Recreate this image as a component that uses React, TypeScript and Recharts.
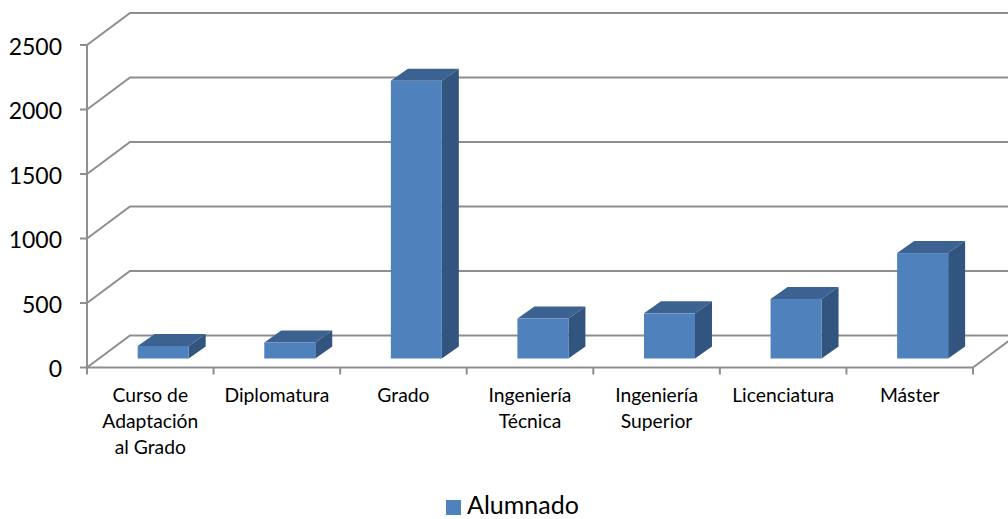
import React from "react";
import { BarChart, Bar, XAxis, YAxis, CartesianGrid, Legend } from "recharts";

const categories = ["Curso de|Adaptación|al Grado", "Diplomatura", "Grado", "Ingeniería|Técnica", "Ingeniería|Superior", "Licenciatura", "Máster"];
const alumnado = [97, 124, 2153, 310, 350, 462, 817];
const yTicks = [0, 500, 1000, 1500, 2000, 2500];
const data = categories.map((name, i) => ({ name, Alumnado: alumnado[i] }));

const GREY = "#8e8e8e";
const DX = 43, DY = 32;
const BAND = 886 / categories.length;

const Bar3D = (p: any) => {
  const bx = p.x + 12.7, by = p.y - 9, w = p.width, h = p.height;
  const ox = 17, oy = 12;
  return (
    <g>
      <polygon points={`${bx},${by} ${bx + ox},${by - oy} ${bx + w + ox},${by - oy} ${bx + w},${by}`} fill="#3c6292" />
      <polygon points={`${bx + w},${by} ${bx + w + ox},${by - oy} ${bx + w + ox},${by + h - oy} ${bx + w},${by + h}`} fill="#325580" />
      <rect x={bx} y={by} width={w} height={h} fill="#4f81bd" />
    </g>
  );
};

const GridLine = (p: any) => {
  const y = p.y1;
  const isFloor = Math.abs(y - 367.5) < 1;
  return (
    <g fill="none" stroke={GREY} strokeWidth={2}>
      <polyline points={`${p.x1},${y} ${p.x1 + DX},${y - DY} ${p.x2 + DX},${y - DY}`} />
      {isFloor && <line x1={p.x2} y1={y} x2={p.x2 + DX} y2={y - DY} />}
    </g>
  );
};

const XTick = (p: any) => {
  const { x, y, payload, index } = p;
  const lines = String(payload.value).split("|");
  const left = x - BAND / 2;
  return (
    <g>
      <line x1={left} y1={y - 8} x2={left} y2={y - 1} stroke={GREY} strokeWidth={2} />
      {index === categories.length - 1 && <line x1={left + BAND} y1={y - 8} x2={left + BAND} y2={y - 1} stroke={GREY} strokeWidth={2} />}
      <text textAnchor="middle" fontFamily="Lato" fontSize={19.3} fill="#000">
        {lines.map((l, i) => (
          <tspan key={i} x={x} y={y + 26 + i * 26}>{l}</tspan>
        ))}
      </text>
    </g>
  );
};

export default function App() {
  return (
    <div style={{ position: "absolute", left: 0, top: 0, width: 1008, height: 519 }}>
      <BarChart
        width={1008}
        height={519}
        data={data}
        margin={{ top: 45, right: 35, left: 0, bottom: 0 }}
        style={{ overflow: "hidden" }}
      >
        <CartesianGrid vertical={false} horizontal={(p: any) => <GridLine key={p.index} {...p} />} />
        <XAxis
          dataKey="name"
          interval={0}
          height={110}
          axisLine={{ stroke: GREY, strokeWidth: 2 }}
          tickLine={false}
          tick={<XTick />}
        />
        <YAxis
          width={87}
          domain={[0, 2500]}
          ticks={yTicks}
          axisLine={{ stroke: GREY, strokeWidth: 2 }}
          tickLine={{ stroke: GREY, strokeWidth: 2 }}
          tickSize={7}
          tickMargin={18}
          tick={{ fontFamily: "Lato", fontSize: 23, fill: "#000", dy: 1.5 }}
        />
        <Legend
          verticalAlign="bottom"
          align="center"
          iconType="square"
          iconSize={15}
          height={41.5}
          wrapperStyle={{ fontFamily: "Lato", fontSize: 25, color: "#000", left: 446, top: 489, width: "auto" }}
          formatter={(v: any) => <span style={{ color: "#000", marginLeft: 2 }}>{v}</span>}
        />
        <Bar dataKey="Alumnado" barSize={51} fill="#4f81bd" shape={<Bar3D />} isAnimationActive={false} />
      </BarChart>
    </div>
  );
}
